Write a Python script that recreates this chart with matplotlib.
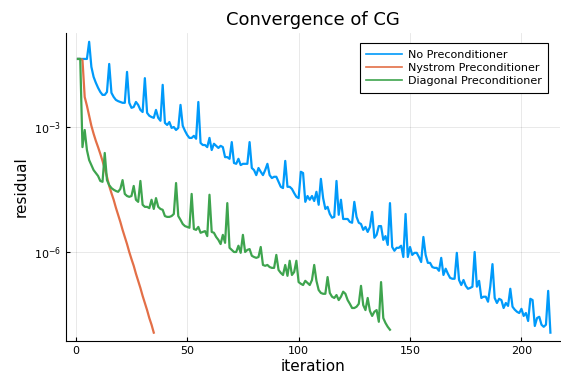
import numpy as np
import matplotlib.pyplot as plt
from matplotlib.ticker import FixedLocator, NullLocator

# log10 of the residual (iterations start at 1)
no_precond_log = [
    -1.38, -1.38, -1.38, -1.38, -1.38, -0.97, -1.57, -1.81, -1.95, -2.07,
    -2.17, -2.24, -2.24, -2.17, -1.50, -2.19, -2.29, -2.36, -2.39, -2.41,
    -2.43, -2.43, -1.69, -2.43, -2.55, -2.53, -2.41, -2.48, -2.60, -2.65,
    -1.84, -2.67, -2.74, -2.77, -2.79, -2.60, -2.79, -2.86, -2.00, -2.91,
    -2.96, -2.89, -3.03, -3.01, -3.08, -3.03, -2.48, -2.98, -3.10, -3.20,
    -3.27, -3.27, -3.22, -3.29, -2.41, -3.39, -3.44, -3.44, -3.49, -3.27,
    -3.56, -3.41, -3.46, -3.51, -3.46, -3.49, -3.73, -3.73, -3.77, -3.37,
    -3.87, -3.89, -3.77, -3.92, -3.89, -3.89, -3.89, -3.37, -3.99, -4.04,
    -4.16, -3.99, -4.08, -4.16, -4.04, -3.89, -4.16, -4.23, -4.20, -4.20,
    -4.32, -4.44, -4.47, -3.82, -4.44, -4.44, -4.49, -4.59, -4.68, -4.71,
    -4.08, -4.11, -4.80, -4.66, -4.75, -4.66, -4.78, -4.56, -4.87, -4.25,
    -4.71, -4.97, -4.92, -5.09, -5.18, -5.16, -4.30, -5.11, -4.75, -5.21,
    -5.21, -5.21, -5.28, -5.30, -4.80, -5.16, -5.30, -5.33, -5.47, -5.40,
    -5.52, -5.40, -5.04, -5.66, -5.59, -5.38, -5.38, -5.71, -5.62, -5.83,
    -4.83, -5.88, -5.97, -5.90, -5.90, -5.85, -6.12, -5.09, -6.12, -5.88,
    -6.07, -6.02, -6.02, -6.12, -6.24, -5.64, -6.07, -6.26, -6.26, -6.36,
    -6.38, -6.38, -6.45, -6.14, -6.55, -6.40, -6.52, -6.62, -6.64, -6.64,
    -6.02, -6.67, -6.79, -6.67, -6.81, -6.88, -6.86, -6.83, -6.00, -6.83,
    -6.69, -7.10, -7.07, -7.07, -7.19, -6.83, -6.29, -7.10, -7.22, -7.12,
    -7.15, -7.34, -7.22, -7.29, -6.88, -7.31, -7.38, -7.43, -7.46, -7.36,
    -7.53, -7.46, -7.65, -7.12, -7.15, -7.77, -7.58, -7.55, -7.74, -7.79,
    -7.74, -6.93, -7.93,
]

nystrom_log = [
    -1.38, -1.38, -1.40, -2.29, -2.50, -2.74, -2.98, -3.17, -3.34, -3.49,
    -3.65, -3.82, -4.01, -4.20, -4.42, -4.59, -4.75, -4.94, -5.11, -5.28,
    -5.47, -5.64, -5.81, -6.00, -6.17, -6.33, -6.52, -6.69, -6.86, -7.05,
    -7.22, -7.39, -7.58, -7.74, -7.93,
]

diagonal_log = [
    -1.38, -1.38, -3.49, -3.08, -3.56, -3.80, -3.92, -4.04, -4.11, -4.18,
    -4.30, -4.32, -3.63, -4.28, -4.40, -4.47, -4.51, -4.54, -4.56, -4.49,
    -4.28, -4.61, -4.66, -4.68, -4.66, -4.42, -4.75, -4.80, -4.30, -4.87,
    -4.92, -4.92, -4.95, -4.75, -4.97, -4.71, -4.92, -4.97, -4.99, -5.14,
    -5.16, -5.16, -5.14, -5.09, -4.35, -5.14, -5.23, -5.33, -5.38, -5.40,
    -5.42, -4.61, -5.45, -5.47, -5.40, -5.54, -5.52, -5.50, -5.62, -4.63,
    -5.52, -5.54, -5.64, -5.71, -5.81, -5.59, -5.78, -4.83, -5.90, -5.95,
    -6.00, -6.00, -5.85, -6.02, -5.59, -6.00, -5.95, -5.93, -6.09, -6.12,
    -6.14, -6.12, -5.88, -6.31, -6.33, -6.31, -6.36, -6.38, -6.38, -6.07,
    -6.43, -6.50, -6.55, -6.31, -6.57, -6.21, -6.55, -6.48, -6.21, -6.72,
    -6.76, -6.79, -6.69, -6.74, -6.79, -6.67, -6.31, -6.69, -6.91, -6.98,
    -7.00, -7.00, -6.60, -6.98, -7.07, -7.10, -7.03, -7.15, -7.07, -6.95,
    -7.00, -7.15, -7.24, -7.34, -7.34, -7.31, -7.24, -6.81, -7.27, -7.39,
    -7.10, -7.41, -7.53, -7.43, -7.39, -7.67, -6.72, -7.58, -7.70, -7.79,
    -7.86,
]

series = [
    ("No Preconditioner", no_precond_log, "#009AFA"),
    ("Nystrom Preconditioner", nystrom_log, "#E36F47"),
    ("Diagonal Preconditioner", diagonal_log, "#3EA44E"),
]

fig = plt.figure(figsize=(5.61, 3.80), dpi=100)
ax = fig.add_axes([0.1176, 0.1026, 0.8806, 0.8105])

for name, logs, color in series:
    it = np.arange(1, len(logs) + 1)
    ax.plot(it, 10.0 ** np.array(logs), color=color, lw=1.6, label=name)

ax.set_yscale("log")
ax.set_xlim(-4.4, 217.3)
ax.set_ylim(10 ** -8.13, 10 ** -0.76)

ax.set_xticks([0, 50, 100, 150, 200])
ax.yaxis.set_major_locator(FixedLocator([1e-3, 1e-6]))
ax.yaxis.set_minor_locator(NullLocator())
ax.tick_params(direction="in", length=3, width=0.8, labelsize=8, colors="black")

ax.grid(True, color="black", alpha=0.1, lw=0.6)
ax.spines["top"].set_visible(False)
ax.spines["right"].set_visible(False)

ax.set_title("Convergence of CG", fontsize=13)
ax.set_xlabel("iteration", fontsize=11, labelpad=2)
ax.set_ylabel("residual", fontsize=11, labelpad=4)

leg = ax.legend(loc="upper right", bbox_to_anchor=(0.976, 0.968), fontsize=8,
                frameon=True, fancybox=False, framealpha=1, edgecolor="black",
                handlelength=3.2, borderpad=0.6, labelspacing=0.3,
                handletextpad=0.5, borderaxespad=0)
leg.get_frame().set_linewidth(0.8)
for line in leg.get_lines():
    line.set_linewidth(1.2)

fig.savefig("out.png", dpi=100)
